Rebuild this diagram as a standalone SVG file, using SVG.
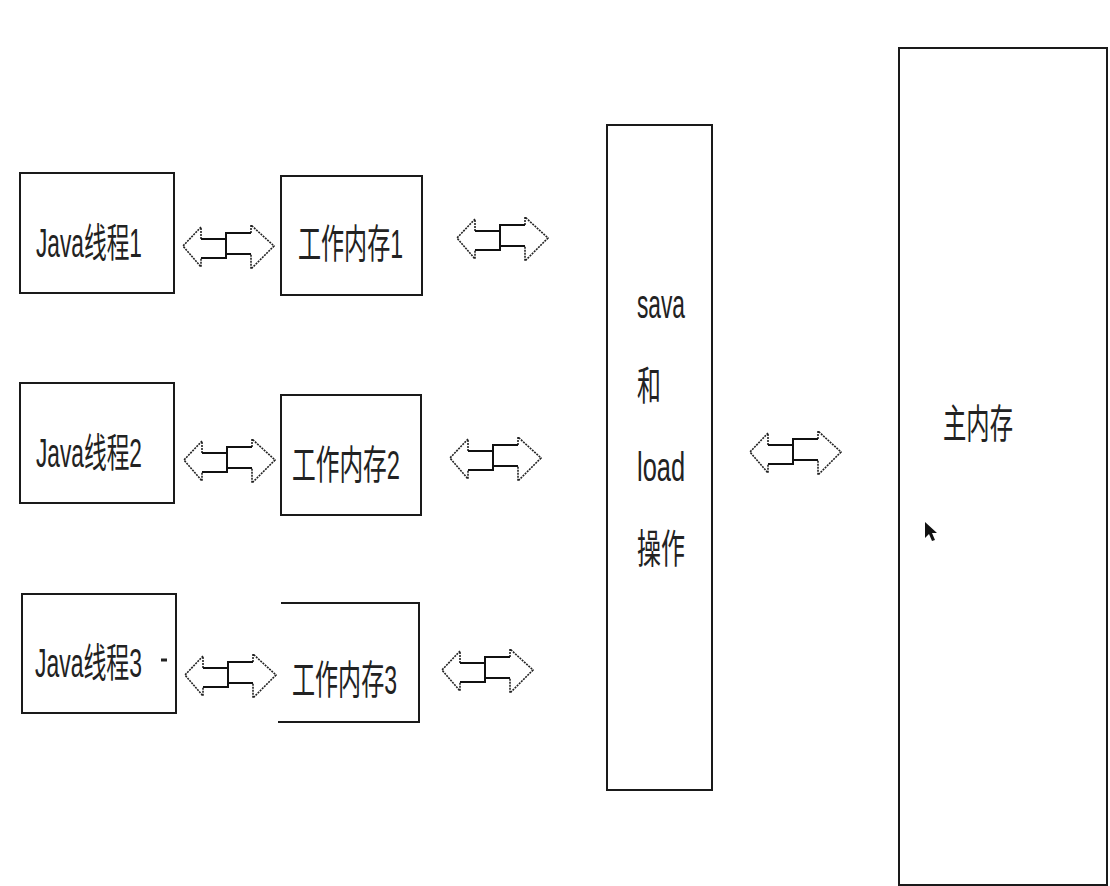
<svg xmlns="http://www.w3.org/2000/svg" width="1110" height="886" viewBox="0 0 1110 886">
<style>
.box{fill:#fff;stroke:#1a1a1a;stroke-width:2}
.t{font-family:"Liberation Sans","Noto Sans CJK SC",sans-serif;font-size:40px;fill:#222}
.shaft{fill:none;stroke:#111;stroke-width:2}
.head{fill:none;stroke:#222;stroke-width:1.6;stroke-dasharray:2 1}
</style>
<defs>
<g id="dblarrow">
<path class="head" d="M18,-7 L18,-19 L0,0 L18,21 L18,12"/>
<path class="head" d="M68,-13 L68,-21 L91,0 L68,23 L68,8"/>
<path class="shaft" d="M18,-7 L43,-7 L43,-13 L68,-13 M68,8 L43,8 L43,12 L18,12 M43,-13 L43,12"/>
</g>
</defs>
<rect width="1110" height="886" fill="#fff"/>

<g id="java1"><rect class="box" x="20" y="173" width="154" height="120"/><text class="t" x="36" y="257" textLength="106" lengthAdjust="spacingAndGlyphs">Java线程1</text></g>
<g id="work1"><rect class="box" x="281" y="176" width="141" height="119"/><text class="t" x="298" y="258" textLength="105" lengthAdjust="spacingAndGlyphs">工作内存1</text></g>
<g id="java2"><rect class="box" x="20" y="383" width="154" height="120"/><text class="t" x="36" y="467" textLength="106" lengthAdjust="spacingAndGlyphs">Java线程2</text></g>
<g id="work2"><rect class="box" x="281" y="395" width="140" height="120"/><text class="t" x="292" y="479" textLength="108" lengthAdjust="spacingAndGlyphs">工作内存2</text></g>
<g id="java3"><rect class="box" x="22" y="594" width="154" height="119"/><text class="t" x="35" y="677" textLength="107" lengthAdjust="spacingAndGlyphs">Java线程3</text><path d="M161,660 L167,660" stroke="#222" stroke-width="3"/></g>
<g id="work3"><path d="M281,603 L419,603 L419,722 L278,722" fill="none" stroke="#1a1a1a" stroke-width="2"/><text class="t" x="292" y="694" textLength="105" lengthAdjust="spacingAndGlyphs">工作内存3</text></g>
<g id="saveload"><rect class="box" x="607" y="125" width="105" height="665"/>
<text class="t" x="637" y="318" textLength="48" lengthAdjust="spacingAndGlyphs">sava</text>
<text class="t" x="637" y="400" textLength="24" lengthAdjust="spacingAndGlyphs">和</text>
<text class="t" x="637" y="481" textLength="48" lengthAdjust="spacingAndGlyphs">load</text>
<text class="t" x="637" y="563" textLength="48" lengthAdjust="spacingAndGlyphs">操作</text></g>
<g id="mainmem"><rect class="box" x="899" y="48" width="208" height="837"/><text class="t" x="943" y="438" textLength="70" lengthAdjust="spacingAndGlyphs">主内存</text>
<path d="M925,522 L925,538 L929,534 L932,541 L935,540 L932,533 L937,533 Z" fill="#111"/></g>

<g id="connectors">
<use href="#dblarrow" transform="translate(183,246)"/>
<use href="#dblarrow" transform="translate(457,238)"/>
<use href="#dblarrow" transform="translate(184,460)"/>
<use href="#dblarrow" transform="translate(450,458)"/>
<use href="#dblarrow" transform="translate(185,675)"/>
<use href="#dblarrow" transform="translate(442,670)"/>
<use href="#dblarrow" transform="translate(750,452)"/>
</g>
</svg>
